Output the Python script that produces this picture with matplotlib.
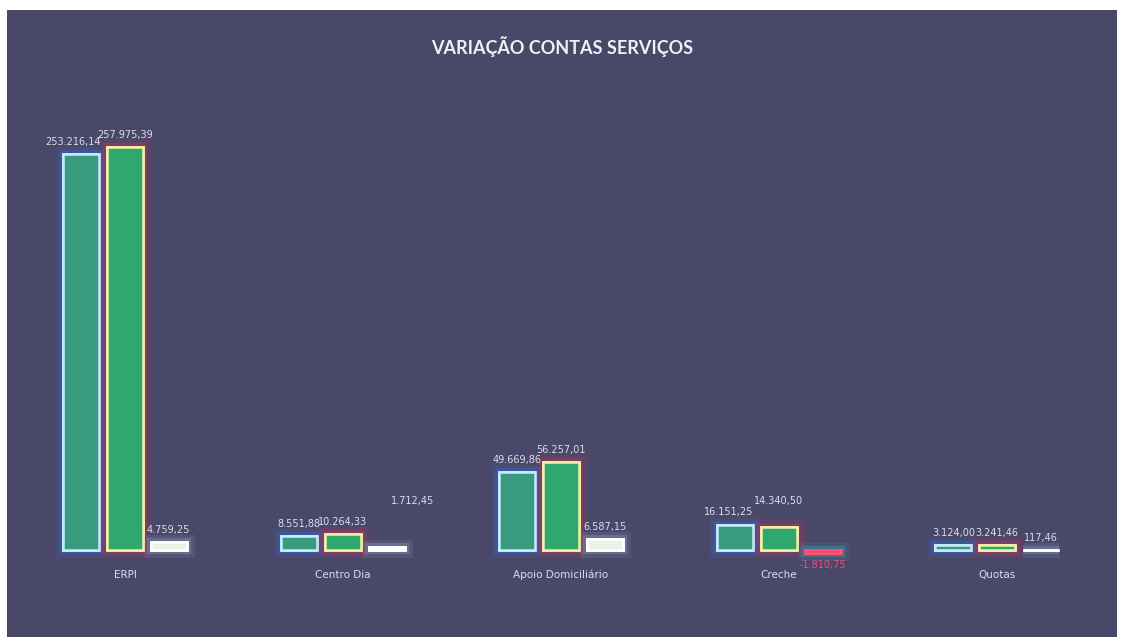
import matplotlib
matplotlib.use("Agg")
import matplotlib.pyplot as plt
import matplotlib.patheffects as pe
from matplotlib.patches import Rectangle
import numpy as np

categories = ["ERPI", "Centro Dia", "Apoio Domiciliário", "Creche", "Quotas"]
ano_anterior = [253216.14, 8551.88, 49669.86, 16151.25, 3124.00]
ano_atual = [257975.39, 10264.33, 56257.01, 14340.50, 3241.46]
variacao = [4759.25, 1712.45, 6587.15, -1810.75, 117.46]
title = "VARIAÇÃO CONTAS SERVIÇOS"


def fmt_pt(v):
    s = f"{abs(v):,.2f}"
    s = s.replace(",", "X").replace(".", ",").replace("X", ".")
    return ("-" if v < 0 else "") + s


W, H = 1124, 641
fig = plt.figure(figsize=(W / 100, H / 100), dpi=100, facecolor="white")
panel = Rectangle((7 / W, 4 / H), 1110 / W, 627 / H, transform=fig.transFigure,
                  facecolor="#4a4868", edgecolor="none", zorder=-10)
fig.patches.append(panel)

# axes: pixel 81 (top) to 581 (bottom) mapped to ylim
ymin, ymax = -20000, 300000
ax_bottom_px, ax_top_px = 581, 81
ax = fig.add_axes([16 / W, (H - ax_bottom_px) / H, 1090 / W, (ax_bottom_px - ax_top_px) / H])
ax.set_zorder(5)
ax.set_facecolor("none")
ax.patch.set_alpha(0)
ax.set_xlim(-0.5, len(categories) - 0.5)
ax.set_ylim(ymin, ymax)
for sp in ax.spines.values():
    sp.set_visible(False)
ax.set_xticks([])
ax.set_yticks([])

x = np.arange(len(categories))
width = 0.165
offsets = [-0.2, 0.0, 0.2]
series = [ano_anterior, ano_atual, variacao]
fills = ["#3a9a7e", "#2ea86c", "#eef2e6"]
edges = ["#c6ecff", "#f4f0a8", "#ffffff"]
glows = ["#2f6ad8", "#c0305c", "#8aa0c0"]

for si, vals in enumerate(series):
    for i, v in enumerate(vals):
        fc = fills[si]
        ec = edges[si]
        gl = glows[si]
        if v < 0:
            fc, ec, gl = "#e8305e", "#ff5070", "#3aa0c0"
        b = ax.bar(x[i] + offsets[si], v, width=width, color=fc, edgecolor=ec,
                   linewidth=1.8, zorder=3)
        b[0].set_path_effects([pe.withStroke(linewidth=11, foreground=gl, alpha=0.15),
                               pe.withStroke(linewidth=6, foreground=gl, alpha=0.35),
                               pe.Normal()])

# data labels
label_dx = {(0, 0): -0.04, (0, 3): -0.03, (1, 3): 0.0, (2, 1): 0.12}
label_dy = {(2, 1): 22000, (1, 3): 9000}
for si, vals in enumerate(series):
    for i, v in enumerate(vals):
        xx = x[i] + offsets[si] + label_dx.get((si, i), 0.0)
        if v >= 0:
            yy = v + 4500 + label_dy.get((si, i), 0)
            ax.text(xx, yy, fmt_pt(v), ha="center", va="bottom", fontsize=7,
                    color="#dcdcec", zorder=5)
        else:
            ax.text(xx, v - 4500, fmt_pt(v), ha="center", va="top", fontsize=7,
                    color="#ff4a70", zorder=5)

# category labels
for i, c in enumerate(categories):
    ax.text(x[i], 0.012, c, transform=ax.get_xaxis_transform(), ha="center", va="center",
            fontsize=7.5, color="#dcdcec", zorder=5)

fig.text(0.5, (H - 47) / H, title, ha="center", va="center", fontsize=13,
         fontweight="bold", color="#f0f0f8", family=["Lato", "DejaVu Sans"])

fig.savefig("out.png", dpi=100, facecolor="white")
